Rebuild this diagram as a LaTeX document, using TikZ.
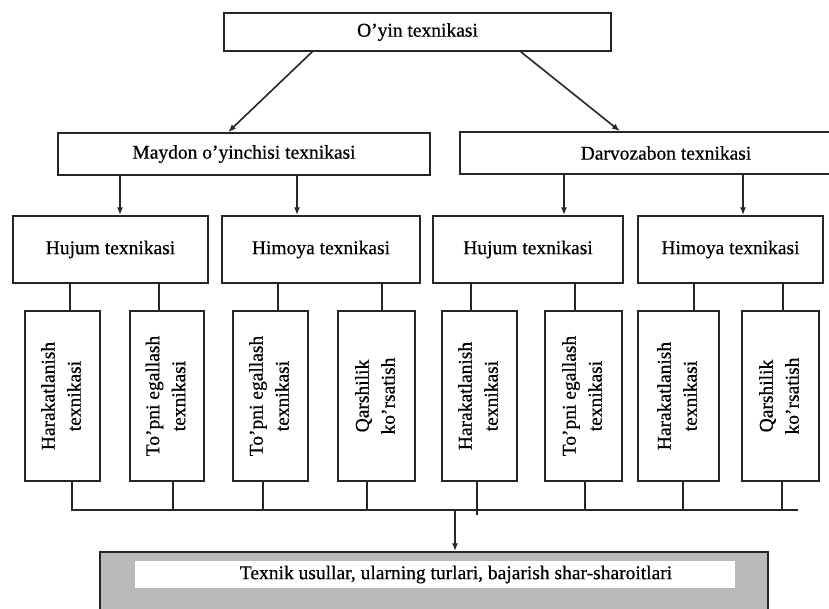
\documentclass[tikz,border=0pt]{standalone}
\usepackage{fontspec}
\setmainfont{Liberation Serif}[FakeBold=0.5]
\usepackage{graphicx}
\usetikzlibrary{arrows.meta}
\newcommand\rotlbl[2]{\rotatebox{90}{\begin{tabular}{@{}c@{}}#1\\#2\end{tabular}}}
\tikzset{
  bx/.style={draw=black!85, line width=1.5pt, fill=white, inner sep=0pt,
    font=\fontsize{19.5}{26}\selectfont},
  ln/.style={draw=black!85, line width=1.6pt},
  arr/.style={ln, -{Latex[length=8pt,width=6pt]}},
}
\begin{document}
\begin{tikzpicture}[x=1pt,y=-1pt]
\useasboundingbox (0,0) rectangle (829,608);
\clip (0,0) rectangle (829,608);
% top
\node[bx, minimum width=387pt, minimum height=38pt] (top) at (417.5,32) {O'yin texnikasi};
\node[bx, minimum width=372pt, minimum height=42pt] (may) at (244,154) {Maydon o'yinchisi texnikasi};
\node[bx, minimum width=412pt, minimum height=42pt] (darv) at (666,153) {Darvozabon texnikasi};
% level 2
\node[bx, minimum width=195pt, minimum height=67pt] (h1) at (110.5,249.5) {Hujum texnikasi};
\node[bx, minimum width=198pt, minimum height=67pt] (hm1) at (321,249.5) {Himoya texnikasi};
\node[bx, minimum width=190pt, minimum height=67pt] (h2) at (528,249.5) {Hujum texnikasi};
\node[bx, minimum width=185pt, minimum height=67pt] (hm2) at (730.5,249.5) {Himoya texnikasi};
% level 3
\node[bx, minimum width=75pt, minimum height=170pt] (r1) at (62.5,396) {\rotlbl{Harakatlanish}{texnikasi}};
\node[bx, minimum width=74pt, minimum height=170pt] (r2) at (167,396) {\rotlbl{To'pni egallash}{texnikasi}};
\node[bx, minimum width=75pt, minimum height=170pt] (r3) at (270.5,396) {\rotlbl{To'pni egallash}{texnikasi}};
\node[bx, minimum width=77pt, minimum height=170pt] (r4) at (376.5,396) {\rotlbl{Qarshilik}{ko'rsatish}};
\node[bx, minimum width=75pt, minimum height=170pt] (r5) at (479.5,396) {\rotlbl{Harakatlanish}{texnikasi}};
\node[bx, minimum width=77pt, minimum height=170pt] (r6) at (583.5,396) {\rotlbl{To'pni egallash}{texnikasi}};
\node[bx, minimum width=81pt, minimum height=170pt] (r7) at (678.5,396) {\rotlbl{Harakatlanish}{texnikasi}};
\node[bx, minimum width=77pt, minimum height=170pt] (r8) at (780.5,396) {\rotlbl{Qarshilik}{ko'rsatish}};
% bottom box
\node[bx, fill=black!27, minimum width=668pt, minimum height=76pt] (bot) at (434,590) {};
\node[draw=none, fill=white, inner sep=0pt, minimum width=600pt, minimum height=27pt] (botin) at (435,574.5) {};
\node[inner sep=0pt, font=\fontsize{19.5}{26}\selectfont] (bottxt) at (456,574.5) {Texnik usullar, ularning turlari, bajarish shar-sharoitlari};
% diagonal arrows
\draw[arr] ([xshift=89pt]top.south west) -- ([xshift=-16pt]may.north);
\draw[arr] ([xshift=-91pt]top.south east) -- ([xshift=-46pt]darv.north);
% arrows to level 2
\draw[arr] ([xshift=9.5pt]h1.north |- may.south) -- ([xshift=9.5pt]h1.north);
\draw[arr] ([xshift=-24pt]hm1.north |- may.south) -- ([xshift=-24pt]hm1.north);
\draw[arr] ([xshift=36pt]h2.north |- darv.south) -- ([xshift=36pt]h2.north);
\draw[arr] ([xshift=12.5pt]hm2.north |- darv.south) -- ([xshift=12.5pt]hm2.north);
% connectors level 2 -> level 3
\draw[ln] ([xshift=7.5pt]r1.north) -- ([xshift=7.5pt]r1.north |- h1.south);
\draw[ln] ([xshift=-8pt]r2.north) -- ([xshift=-8pt]r2.north |- h1.south);
\draw[ln] ([xshift=7.5pt]r3.north) -- ([xshift=7.5pt]r3.north |- hm1.south);
\draw[ln] ([xshift=5.5pt]r4.north) -- ([xshift=5.5pt]r4.north |- hm1.south);
\draw[ln] ([xshift=-8.5pt]r5.north) -- ([xshift=-8.5pt]r5.north |- h2.south);
\draw[ln] ([xshift=-8.5pt]r6.north) -- ([xshift=-8.5pt]r6.north |- h2.south);
\draw[ln] ([xshift=15.5pt]r7.north) -- ([xshift=15.5pt]r7.north |- hm2.south);
\draw[ln] ([xshift=2.5pt]r8.north) -- ([xshift=2.5pt]r8.north |- hm2.south);
% bus
\coordinate (busR) at (798,510);
\coordinate (busM) at (455,510);
\draw[ln] ([xshift=9.5pt]r1.south) |- (busR);
\draw[ln] ([xshift=6pt]r2.south) -- ([xshift=6pt]r2.south |- busR);
\draw[ln] ([xshift=-7.5pt]r3.south) -- ([xshift=-7.5pt]r3.south |- busR);
\draw[ln] ([xshift=-9.5pt]r4.south) -- ([xshift=-9.5pt]r4.south |- busR);
\draw[ln] ([xshift=-2.5pt]r5.south) -- ([xshift=-2.5pt,yshift=-33pt]r5.south);
\draw[ln] ([xshift=1.5pt]r6.south) -- ([xshift=1.5pt]r6.south |- busR);
\draw[ln] ([xshift=4.5pt]r7.south) -- ([xshift=4.5pt]r7.south |- busR);
\draw[ln] ([xshift=1.5pt]r8.south) -- ([xshift=1.5pt]r8.south |- busR);
\draw[arr] (busM) -- (busM |- bot.north);
\end{tikzpicture}
\end{document}
